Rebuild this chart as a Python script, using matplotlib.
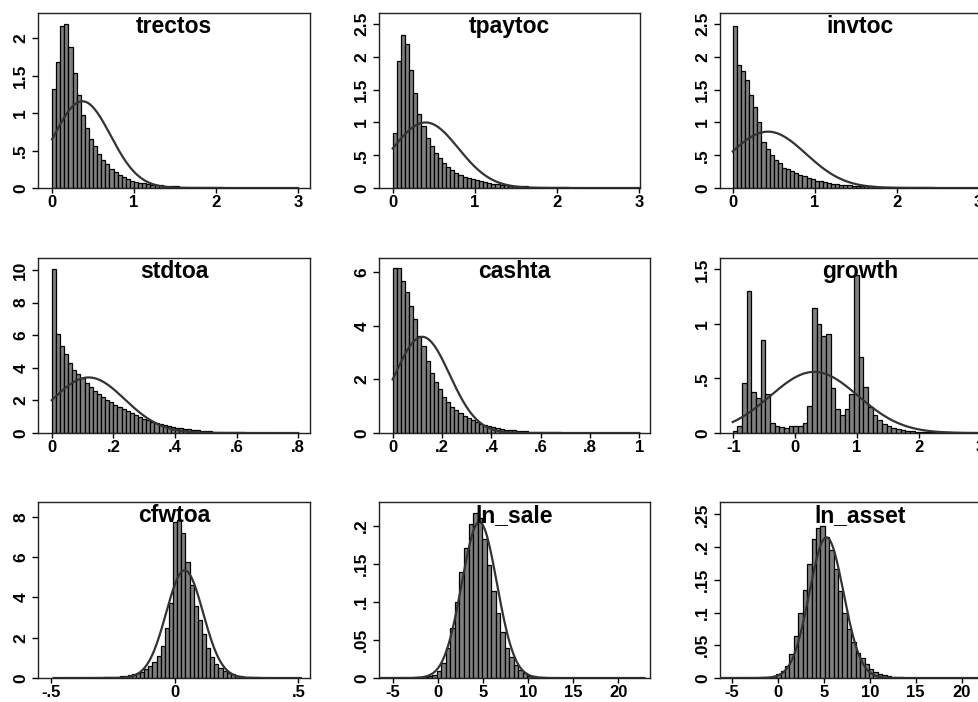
import numpy as np
import matplotlib
matplotlib.use("Agg")
import matplotlib.pyplot as plt

# bar heights (density), 60 bins each
trectos = [1.32, 1.69, 2.16, 2.19, 1.88, 1.54, 1.24, 0.97, 0.80, 0.65,
           0.56, 0.46, 0.38, 0.32, 0.26, 0.22, 0.18, 0.15, 0.12, 0.10,
           0.085, 0.072, 0.062, 0.053, 0.046, 0.040, 0.035, 0.031, 0.027, 0.024,
           0.021, 0.019, 0.017, 0.015, 0.013, 0.012, 0.011, 0.010, 0.009, 0.008,
           0.007, 0.007, 0.006, 0.006, 0.005, 0.005, 0.004, 0.004, 0.004, 0.003,
           0.003, 0.003, 0.003, 0.002, 0.002, 0.002, 0.002, 0.002, 0.001, 0.001]
tpaytoc = [0.84, 1.94, 2.34, 2.19, 1.80, 1.45, 1.13, 0.94, 0.76, 0.64,
           0.54, 0.46, 0.38, 0.32, 0.27, 0.23, 0.20, 0.17, 0.15, 0.13,
           0.115, 0.10, 0.088, 0.077, 0.067, 0.058, 0.050, 0.044, 0.038, 0.033,
           0.029, 0.026, 0.023, 0.020, 0.018, 0.016, 0.014, 0.013, 0.012, 0.011,
           0.010, 0.009, 0.008, 0.007, 0.007, 0.006, 0.006, 0.005, 0.005, 0.004,
           0.004, 0.004, 0.003, 0.003, 0.003, 0.002, 0.002, 0.002, 0.001, 0.001]
invtoc = [2.47, 1.87, 1.78, 1.65, 1.42, 1.23, 1.00, 0.70, 0.60, 0.50,
          0.42, 0.38, 0.31, 0.29, 0.26, 0.23, 0.20, 0.18, 0.15, 0.13,
          0.11, 0.10, 0.085, 0.075, 0.066, 0.058, 0.052, 0.046, 0.041, 0.037,
          0.033, 0.030, 0.027, 0.025, 0.023, 0.021, 0.019, 0.017, 0.016, 0.015,
          0.014, 0.013, 0.012, 0.011, 0.010, 0.009, 0.009, 0.008, 0.008, 0.007,
          0.007, 0.006, 0.006, 0.005, 0.005, 0.005, 0.004, 0.004, 0.004, 0.003]
stdtoa = [10.06, 6.07, 5.35, 4.84, 4.30, 3.85, 3.60, 3.35, 3.05, 2.80,
          2.60, 2.40, 2.22, 2.05, 1.88, 1.72, 1.58, 1.45, 1.33, 1.22,
          1.10, 1.00, 0.88, 0.78, 0.70, 0.62, 0.55, 0.48, 0.42, 0.37,
          0.33, 0.29, 0.25, 0.22, 0.19, 0.16, 0.14, 0.12, 0.10, 0.09,
          0.08, 0.07, 0.06, 0.05, 0.045, 0.04, 0.035, 0.03, 0.025, 0.02,
          0.018, 0.015, 0.012, 0.01, 0.008, 0.007, 0.006, 0.005, 0.004, 0.003]
cashta = [6.17, 6.17, 5.68, 5.28, 4.74, 4.25, 3.63, 3.26, 2.70, 2.25,
          1.90, 1.63, 1.36, 1.17, 0.98, 0.87, 0.75, 0.65, 0.56, 0.47,
          0.40, 0.34, 0.29, 0.25, 0.21, 0.18, 0.15, 0.13, 0.11, 0.095,
          0.082, 0.071, 0.062, 0.054, 0.047, 0.041, 0.036, 0.031, 0.027, 0.024,
          0.021, 0.018, 0.016, 0.014, 0.012, 0.011, 0.010, 0.009, 0.008, 0.007,
          0.006, 0.005, 0.005, 0.004, 0.004, 0.003, 0.003, 0.002, 0.002, 0.002]
growth = [0.02, 0.06, 0.46, 1.30, 0.38, 0.32, 0.85, 0.36, 0.095, 0.06,
          0.055, 0.05, 0.06, 0.067, 0.067, 0.095, 0.25, 1.15, 1.00, 0.89,
          0.91, 0.41, 0.22, 0.165, 0.22, 0.36, 1.45, 0.70, 0.42, 0.24,
          0.165, 0.12, 0.08, 0.06, 0.045, 0.035, 0.025, 0.02, 0.015, 0.012,
          0.01, 0.009, 0.008, 0.007, 0.006, 0.005, 0.005, 0.004, 0.004, 0.003,
          0.003, 0.003, 0.002, 0.002, 0.002, 0.002, 0.001, 0.001, 0.001, 0.001]
cfwtoa = [0.002, 0.003, 0.003, 0.004, 0.005, 0.006, 0.007, 0.008, 0.01, 0.013,
          0.016, 0.02, 0.027, 0.035, 0.045, 0.06, 0.08, 0.10, 0.13, 0.18,
          0.24, 0.32, 0.43, 0.58, 0.80, 1.10, 1.60, 2.50, 3.70, 7.75,
          7.85, 7.20, 5.75, 4.60, 3.60, 2.90, 2.20, 1.50, 1.05, 0.72,
          0.50, 0.35, 0.25, 0.18, 0.12, 0.09, 0.06, 0.045, 0.035, 0.027,
          0.02, 0.015, 0.012, 0.01, 0.008, 0.006, 0.005, 0.004, 0.003, 0.003]
ln_sale = [0, 0, 0.0002, 0.0002, 0.0003, 0.0003, 0.0004, 0.0005, 0.0006, 0.0008,
           0.001, 0.0015, 0.002, 0.004, 0.009, 0.02, 0.04, 0.065, 0.10, 0.139,
           0.171, 0.202, 0.216, 0.21, 0.182, 0.148, 0.114, 0.085, 0.06, 0.04,
           0.027, 0.017, 0.01, 0.006, 0.003, 0.002, 0.0012, 0.0008, 0.0005, 0.0004,
           0.0003, 0.0002, 0.0002, 0.0001, 0.0001, 0.0001, 0.0001, 0, 0, 0,
           0, 0, 0, 0, 0, 0, 0, 0, 0, 0.0001]
ln_asset = [0, 0, 0, 0.0001, 0.0002, 0.0002, 0.0003, 0.0004, 0.0005, 0.0007,
            0.001, 0.0015, 0.002, 0.0035, 0.006, 0.01, 0.019, 0.036, 0.064, 0.10,
            0.134, 0.175, 0.212, 0.229, 0.232, 0.215, 0.196, 0.167, 0.133, 0.10,
            0.075, 0.055, 0.038, 0.03, 0.021, 0.013, 0.009, 0.006, 0.004, 0.003,
            0.002, 0.0015, 0.001, 0.0007, 0.0005, 0.0004, 0.0003, 0.0002, 0.0002, 0.0001,
            0.0001, 0.0001, 0, 0, 0, 0, 0, 0, 0, 0.0001]

names = ["trectos", "tpaytoc", "invtoc", "stdtoa", "cashta", "growth",
         "cfwtoa", "ln_sale", "ln_asset"]
heights = [trectos, tpaytoc, invtoc, stdtoa, cashta, growth,
           cfwtoa, ln_sale, ln_asset]
# data range (min, max) of each variable
ranges = [(0, 3), (0, 3), (0, 3), (0, 0.8), (0, 1), (-1.01, 3.526),
          (-0.49, 0.51), (-7.1, 22.9), (-6.88, 21.92)]
# mean and sd for the normal overlay
means = [0.37, 0.40, 0.43, 0.12, 0.12, 0.31, 0.04, 4.6, 5.3]
sds = [0.344, 0.399, 0.464, 0.117, 0.111, 0.712, 0.0746, 1.95, 1.856]

xticks = [[0, 1, 2, 3], [0, 1, 2, 3], [0, 1, 2, 3],
          [0, .2, .4, .6, .8], [0, .2, .4, .6, .8, 1], [-1, 0, 1, 2, 3],
          [-.5, 0, .5], [-5, 0, 5, 10, 15, 20], [-5, 0, 5, 10, 15, 20]]
xlabels = [["0", "1", "2", "3"]] * 3 + [
    ["0", ".2", ".4", ".6", ".8"], ["0", ".2", ".4", ".6", ".8", "1"],
    ["-1", "0", "1", "2", "3"], ["-.5", "0", ".5"],
    ["-5", "0", "5", "10", "15", "20"], ["-5", "0", "5", "10", "15", "20"]]
yticks = [[0, .5, 1, 1.5, 2], [0, .5, 1, 1.5, 2, 2.5], [0, .5, 1, 1.5, 2, 2.5],
          [0, 2, 4, 6, 8, 10], [0, 2, 4, 6], [0, .5, 1, 1.5],
          [0, 2, 4, 6, 8], [0, .05, .1, .15, .2], [0, .05, .1, .15, .2, .25]]
ylabels = [["0", ".5", "1", "1.5", "2"], ["0", ".5", "1", "1.5", "2", "2.5"],
           ["0", ".5", "1", "1.5", "2", "2.5"], ["0", "2", "4", "6", "8", "10"],
           ["0", "2", "4", "6"], ["0", ".5", "1", "1.5"], ["0", "2", "4", "6", "8"],
           ["0", ".05", ".1", ".15", ".2"], ["0", ".05", ".1", ".15", ".2", ".25"]]

# layout in pixels: (left, right, top, bottom) and axis limits
boxes = [(38, 310, 13, 188), (379, 640, 13, 188), (720, 1000, 13, 188),
         (38, 310, 258, 433), (379, 650, 258, 433), (720, 1000, 258, 433),
         (38, 310, 502, 678), (379, 650, 502, 678), (720, 1000, 502, 678)]
xlims = [(-0.171, 3.146), (-0.167, 3.009), (-0.155, 3.26),
         (-0.0445, 0.838), (-0.0555, 1.043), (-1.216, 3.32),
         (-0.553, 0.547), (-6.52, 23.51), (-6.27, 24.16)]
ylims = [2.34, 2.67, 2.67, 10.74, 6.54, 1.604, 8.74, 0.231, 0.269]

W, H = 979, 702
plt.rcParams['font.family'] = ['Liberation Sans', 'DejaVu Sans']
fig = plt.figure(figsize=(W / 100, H / 100), dpi=100)

for i in range(9):
    l, r, t, b = boxes[i]
    ax = fig.add_axes([l / W, 1 - b / H, (r - l) / W, (b - t) / H])
    h = np.array(heights[i])
    lo, hi = ranges[i]
    edges = np.linspace(lo, hi, len(h) + 1)
    ax.bar(edges[:-1], h, width=edges[1] - edges[0], align='edge',
           color='#7f7f7f', edgecolor='black', linewidth=0.9, zorder=2)
    xs = np.linspace(lo, hi, 400)
    dens = np.exp(-0.5 * ((xs - means[i]) / sds[i]) ** 2) / (sds[i] * np.sqrt(2 * np.pi))
    ax.plot(xs, dens, color='#333333', linewidth=1.6, zorder=3)

    ax.set_xlim(*xlims[i])
    ax.set_ylim(0, ylims[i])
    ax.set_xticks(xticks[i])
    ax.set_xticklabels(xlabels[i], fontsize=12, fontweight='bold')
    ax.set_yticks(yticks[i])
    ax.set_yticklabels(ylabels[i], fontsize=12.5, fontweight='bold',
                       rotation=90, va='center')
    ax.tick_params(axis='x', direction='out', length=3.5, width=1, pad=1.5)
    ax.tick_params(axis='y', direction='out', length=4, width=1, pad=3)
    for s in ax.spines.values():
        s.set_linewidth(1.0)
        s.set_color('#222222')
    ax.text(0.5, 1 - 20 / (b - t), names[i], transform=ax.transAxes,
            ha='center', va='baseline', fontsize=16.5, fontweight='bold', zorder=4)

fig.savefig("out.png", dpi=100)
